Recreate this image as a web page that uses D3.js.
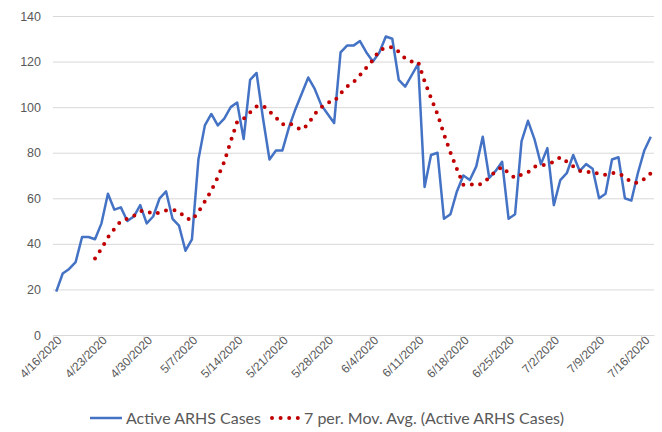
<!DOCTYPE html>
<html>
<head>
<meta charset="utf-8">
<script src="https://cdn.jsdelivr.net/npm/d3@7"></script>
<style>
  body { margin: 0; background: #fff; }
  svg { display: block; font-family: Lato, "Open Sans", sans-serif; }
</style>
</head>
<body>
<div id="viz"></div>
<script>
// daily values, 4/16/2020 .. 7/17/2020
var startDate = '2020-04-16'
var activeCases = [19, 27, 29, 32, 43, 43, 42, 49, 62, 55, 56, 50, 52, 57, 49, 52, 60, 63, 51, 48,
  37, 42, 77, 92, 97, 92, 95, 100, 102, 86, 112, 115, 95, 77, 81, 81, 91, 99, 106, 113,
  108, 101, 97, 93, 124, 127, 127, 129, 124, 120, 124, 131, 130, 112, 109, 114, 119, 65, 79, 80,
  51, 53, 63, 70, 68, 74, 87, 69, 72, 76, 51, 53, 85, 94, 86, 75, 82, 57, 68, 71,
  79, 72, 75, 73, 60, 62, 77, 78, 60, 59, 71, 81, 87]

// 7 per. moving average, starting 4/22/2020
var maStart = '2020-04-22'
var movingAvg = [33.6, 37.9, 42.9, 46.6, 50.0, 51.0, 52.3, 54.4, 54.4, 53.0, 53.7, 54.7, 54.9, 54.3,
  51.4, 50.4, 54.0, 58.6, 63.4, 69.3, 76.0, 85.0, 93.6, 94.9, 97.7, 100.3, 100.7, 98.1, 95.4, 92.4,
  93.1, 91.3, 90.0, 92.6, 97.0, 99.9, 102.1, 102.4, 106.0, 109.0, 111.0, 114.0, 117.3, 120.6, 125.0,
  126.0, 126.4, 124.3, 121.4, 120.0, 119.9, 111.4, 104.0, 96.9, 88.1, 80.1, 72.9, 65.9, 66.3, 65.6,
  66.6, 69.1, 71.9, 73.7, 71.0, 68.9, 70.4, 71.4, 73.9, 74.3, 75.1, 76.0, 78.1, 76.1, 74.0, 72.0,
  72.0, 70.7, 71.1, 70.3, 71.1, 71.0, 69.3, 67.0, 66.7, 68.5, 71.0]

var yTicks = [0, 20, 40, 60, 80, 100, 120, 140]
var xTickDates = ['4/16/2020', '4/23/2020', '4/30/2020', '5/7/2020', '5/14/2020', '5/21/2020',
  '5/28/2020', '6/4/2020', '6/11/2020', '6/18/2020', '6/25/2020', '7/2/2020', '7/9/2020', '7/16/2020']
var seriesNames = ['Active ARHS Cases', '7 per. Mov. Avg. (Active ARHS Cases)']

var width = 662, height = 432
var margin = {top: 16, bottom: 97, left: 53, right: 8}

var parse = d3.utcParse('%Y-%m-%d')
var parseUS = d3.utcParse('%m/%d/%Y')
var day0 = parse(startDate)
var ma0 = parse(maStart)

var blueData = activeCases.map(function(v, i) {
  return {date: d3.utcHour.offset(d3.utcDay.offset(day0, i), 12), value: v}
})
var redData = movingAvg.map(function(v, i) {
  return {date: d3.utcHour.offset(d3.utcDay.offset(ma0, i), 12), value: v}
})

var xScale = d3.scaleUtc()
  .domain([day0, d3.utcDay.offset(day0, activeCases.length)])
  .range([margin.left, width - margin.right])

var yScale = d3.scaleLinear()
  .domain([0, 140])
  .range([height - margin.bottom, margin.top])

var svg = d3.select('#viz')
  .append('svg')
  .attr('width', width)
  .attr('height', height)
  .style('background', '#fff')

// gridlines + y labels
var yAxis = d3.axisLeft(yScale)
  .tickValues(yTicks)
  .tickSize(-(width - margin.left - margin.right))
  .tickPadding(12)

var yGuide = svg.append('g')
  .attr('transform', 'translate(' + margin.left + ',0)')
  .call(yAxis)
yGuide.select('.domain').remove()
yGuide.selectAll('line').attr('stroke', '#d9d9d9')
yGuide.selectAll('text')
  .attr('fill', '#595959')
  .style('font-size', '12.5px')

// x axis
var xAxis = d3.axisBottom(xScale)
  .tickValues(xTickDates.map(function(d) { return parseUS(d) }))
  .tickFormat(d3.utcFormat('%-m/%-d/%Y'))
  .tickSize(5)
  .tickSizeOuter(0)

var xGuide = svg.append('g')
  .attr('transform', 'translate(0,' + yScale(0) + ')')
  .call(xAxis)
xGuide.select('.domain').attr('stroke', '#d9d9d9')
xGuide.selectAll('line').attr('stroke', '#d9d9d9')
xGuide.selectAll('text')
  .attr('fill', '#595959')
  .style('font-size', '12px')
  .attr('text-anchor', 'end')
  .attr('dy', '0.35em')
  .attr('transform', 'translate(6,3) rotate(-45)')
  .attr('y', 0)
  .attr('x', 0)

var line = d3.line()
  .x(function(d) { return xScale(d.date) })
  .y(function(d) { return yScale(d.value) })

svg.append('path')
  .datum(blueData)
  .attr('fill', 'none')
  .attr('stroke', '#4472c4')
  .attr('stroke-width', 2.5)
  .attr('stroke-linejoin', 'round')
  .attr('d', line)

svg.append('path')
  .datum(redData)
  .attr('fill', 'none')
  .attr('stroke', '#c00000')
  .attr('stroke-width', 4)
  .attr('stroke-linecap', 'round')
  .attr('stroke-dasharray', '0 8.6')
  .attr('d', line)

// legend
var legend = svg.append('g').attr('transform', 'translate(0,418)')
legend.append('line')
  .attr('x1', 90).attr('x2', 122)
  .attr('stroke', '#4472c4').attr('stroke-width', 2.5)
legend.append('text')
  .attr('x', 126).attr('dy', '0.35em')
  .attr('fill', '#595959').style('font-size', '16px')
  .text(seriesNames[0])
legend.append('line')
  .attr('x1', 272).attr('x2', 298)
  .attr('stroke', '#c00000').attr('stroke-width', 4)
  .attr('stroke-linecap', 'round')
  .attr('stroke-dasharray', '0 8.6')
legend.append('text')
  .attr('x', 304).attr('dy', '0.35em')
  .attr('fill', '#595959').style('font-size', '16px')
  .text(seriesNames[1])
</script>
</body>
</html>
